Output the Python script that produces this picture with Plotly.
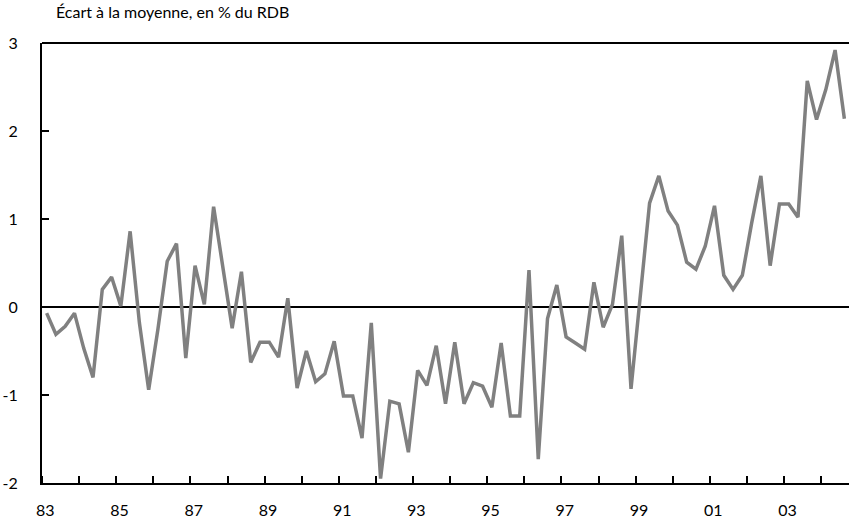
import plotly.graph_objects as go

# Quarterly series 1983Q1 .. 2004Q3 (écart à la moyenne, en % du RDB)
start_year = 1983
values = [
    -0.07, -0.31, -0.22, -0.07,   # 1983
    -0.47, -0.80, 0.20, 0.34,     # 1984
    0.01, 0.86, -0.18, -0.94,     # 1985
    -0.25, 0.52, 0.72, -0.58,     # 1986
    0.47, 0.03, 1.14, 0.45,       # 1987
    -0.24, 0.40, -0.63, -0.40,    # 1988
    -0.40, -0.57, 0.10, -0.92,    # 1989
    -0.50, -0.85, -0.76, -0.39,   # 1990
    -1.01, -1.01, -1.49, -0.18,   # 1991
    -1.95, -1.07, -1.10, -1.65,   # 1992
    -0.72, -0.89, -0.44, -1.10,   # 1993
    -0.40, -1.10, -0.86, -0.90,   # 1994
    -1.14, -0.41, -1.24, -1.24,   # 1995
    0.42, -1.73, -0.13, 0.25,     # 1996
    -0.34, -0.41, -0.48, 0.28,    # 1997
    -0.23, 0.03, 0.81, -0.93,     # 1998
    0.15, 1.18, 1.49, 1.09,       # 1999
    0.93, 0.51, 0.43, 0.69,       # 2000
    1.15, 0.36, 0.20, 0.36,       # 2001
    0.95, 1.49, 0.47, 1.17,       # 2002
    1.17, 1.02, 2.57, 2.13,       # 2003
    2.47, 2.92, 2.14,             # 2004
]
label_years = list(range(1983, 2005, 2))
tick_labels = ["%02d" % (y % 100) for y in label_years]
y_ticks = [3, 2, 1, 0, -1, -2]
title_text = "Écart à la moyenne, en % du RDB"

# quarter mid-points on a continuous year axis
x = [start_year + (i // 4) + ((i % 4) + 0.5) / 4 for i in range(len(values))]

FONT = "Lato, 'Open Sans', sans-serif"

fig = go.Figure()
fig.add_trace(go.Scatter(
    x=x, y=values, mode="lines",
    line=dict(color="#808080", width=3.5),
    hoverinfo="skip", showlegend=False,
))

fig.update_layout(
    width=856, height=524,
    margin=dict(l=42, r=7, t=43, b=41, autoexpand=False),
    paper_bgcolor="white", plot_bgcolor="white",
    font=dict(family=FONT, size=16, color="black"),
    xaxis=dict(
        range=[1983, 2004.75],
        automargin=False,
        tickmode="array",
        tickvals=[y + 0.09 for y in label_years],
        ticktext=tick_labels,
        ticks="", showgrid=False, zeroline=False,
        showline=True, linecolor="black", linewidth=2,
        tickfont=dict(size=16),
        minor=dict(ticks="inside", ticklen=7, tickwidth=1.5, tickcolor="black",
                   tick0=1983, dtick=1, showgrid=False),
        ticklabelstandoff=12,
    ),
    yaxis=dict(
        range=[-2, 3],
        automargin=False,
        tickmode="array", tickvals=y_ticks,
        ticktext=[str(v) for v in y_ticks],
        ticks="inside", ticklen=7, tickwidth=1.5, tickcolor="black",
        showgrid=False,
        zeroline=True, zerolinecolor="black", zerolinewidth=2,
        showline=True, linecolor="black", linewidth=2,
        tickfont=dict(size=16),
        ticklabelstandoff=19,
    ),
    shapes=[dict(type="line", xref="paper", yref="paper", x0=0, x1=1, y0=1, y1=1,
                 line=dict(color="black", width=2))],
    annotations=[dict(
        text=title_text, xref="paper", yref="paper", x=0.015, y=1,
        xanchor="left", yanchor="bottom", yshift=20, showarrow=False,
        font=dict(family=FONT, size=16, color="black"),
    )],
)

fig.write_html("out.html", config={"displayModeBar": False},
               post_script="document.body.style.margin='0px';")
